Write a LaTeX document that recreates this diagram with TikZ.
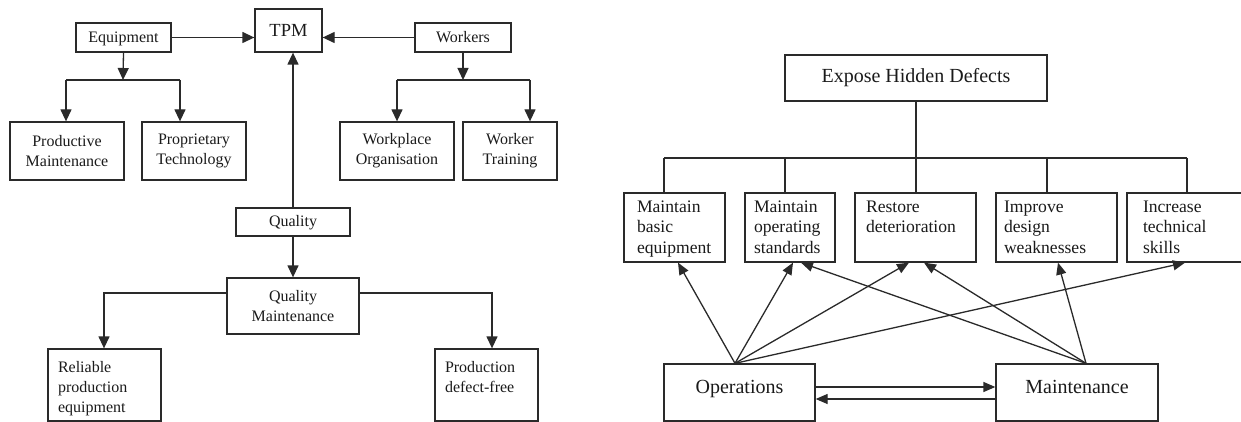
\documentclass[tikz,border=0pt]{standalone}
\usepackage{fontspec}
\setmainfont{Liberation Serif}
\usetikzlibrary{arrows.meta}
\definecolor{inkline}{HTML}{2A2A2A}
\definecolor{inktext}{HTML}{1A1A1A}
% text block set against the top-left corner of its frame:
% #1 width, #2 height, #3 left padding, #4 top gap, #5 lines
\newcommand\cornertext[5]{\parbox[c][#2][t]{#1}{\raggedright\leftskip=#3\relax
  \vspace*{#4}\rule{0pt}{12pt}#5}}
\begin{document}
\begin{tikzpicture}[x=1pt,y=-1pt,
  box/.style={draw=inkline, line width=1.3pt, rectangle, inner sep=0pt,
    text=inktext, align=center},
  smallfont/.style={font=\fontsize{16}{20}\selectfont},
  tpmfont/.style={font=\fontsize{18.5}{22}\selectfont},
  listfont/.style={font=\fontsize{17.6}{20.5}\selectfont},
  bigfont/.style={font=\fontsize{20}{24}\selectfont},
  oneline/.style={text height=#1, text depth=0pt},
  link/.style={draw=inkline, line width=1.3pt},
  arr/.style={link, -{Triangle[length=12pt,width=11pt]}},
  arrs/.style={link, -{Triangle[length=12pt,width=10pt]}}]
\useasboundingbox (0,0) rectangle (1241,422);
\clip (0,0) rectangle (1241,422);

% ---------------- TPM pillars ----------------
\node[box,tpmfont,oneline=13pt,minimum width=67pt,minimum height=43pt] (tpm) at (288.5,30.5) {TPM};
\node[box,smallfont,oneline=11pt,minimum width=95pt,minimum height=29pt] (equip) at (123.5,37.5) {Equipment};
\node[box,smallfont,oneline=11pt,minimum width=96pt,minimum height=29pt] (workers) at (463,37.5) {Workers};
\node[box,smallfont,minimum width=114pt,minimum height=58pt] (prodm) at (67,151) {Productive\\Maintenance};
\node[box,smallfont,minimum width=104pt,minimum height=58pt] (propt) at (194,151) {Proprietary\\Technology};
\node[box,smallfont,minimum width=114pt,minimum height=58pt] (workp) at (397,151) {Workplace\\Organisation};
\node[box,smallfont,minimum width=94pt,minimum height=58pt] (workt) at (510,151) {Worker\\Training};
\node[box,smallfont,oneline=9pt,minimum width=114pt,minimum height=28pt] (quality) at (293,222) {Quality};
\node[box,smallfont,minimum width=132pt,minimum height=56pt] (qm) at (293,306) {Quality\\Maintenance};
\node[box,smallfont] (reliable) at (104.5,385)
  {\cornertext{113pt}{72pt}{10pt}{11pt}{Reliable\\production\\equipment}};
\node[box,smallfont] (defect) at (486.5,385)
  {\cornertext{103pt}{72pt}{10pt}{11pt}{Production\\defect-free}};

\coordinate (eqsplit) at (123,80);
\coordinate (eqL) at (66,80);
\coordinate (eqR) at (180,80);
\coordinate (wksplit) at (463,80);
\coordinate (wkL) at (397,80);
\coordinate (wkR) at (530,80);
\coordinate (qL) at (104,293);
\coordinate (qR) at (492,293);

\draw[arr] (equip.east) -- (equip.east -| tpm.west);
\draw[arr] (workers.west) -- (workers.west -| tpm.east);
\draw[arr] (equip.south) -- (eqsplit);
\draw[link] (eqL) -- (eqR);
\draw[arr] (eqL) -- (eqL |- prodm.north);
\draw[arr] (eqR) -- (eqR |- propt.north);
\draw[arr] (workers.south) -- (wksplit);
\draw[link] (wkL) -- (wkR);
\draw[arr] (wkL) -- (wkL |- workp.north);
\draw[arr] (wkR) -- (wkR |- workt.north);
\draw[arr] (quality.north) -- (quality.north |- tpm.south);
\draw[arr] (quality.south) -- (qm.north);
\draw[arr] (qm.west |- qL) -- (qL) -- (qL |- reliable.north);
\draw[arr] (qm.east |- qR) -- (qR) -- (qR |- defect.north);

% ---------------- Hidden defects ----------------
\node[box,bigfont,minimum width=262pt,minimum height=46pt] (expose) at (916,78) {Expose Hidden Defects};
\node[box,listfont] (b1) at (674.5,227.5)
  {\cornertext{101pt}{69pt}{13pt}{7pt}{Maintain\\basic\\equipment}};
\node[box,listfont] (b2) at (790,227.5)
  {\cornertext{90pt}{69pt}{9pt}{7pt}{Maintain\\operating\\standards}};
\node[box,listfont] (b3) at (915.5,227.5)
  {\cornertext{121pt}{69pt}{11pt}{7pt}{Restore\\deterioration}};
\node[box,listfont] (b4) at (1056.5,227.5)
  {\cornertext{121pt}{69pt}{8pt}{7pt}{Improve\\design\\weaknesses}};
\node[box,listfont] (b5) at (1187.5,227.5)
  {\cornertext{121pt}{69pt}{16pt}{7pt}{Increase\\technical\\skills}};
\node[box,bigfont,text height=13pt,text depth=12pt,minimum width=151pt,minimum height=57pt] (ops) at (739.5,392.5) {Operations};
\node[box,bigfont,text height=13pt,text depth=12pt,minimum width=162pt,minimum height=57pt] (maint) at (1077,392.5) {Maintenance};

\coordinate (t1) at (664,158);
\coordinate (t2) at (785,158);
\coordinate (t3) at (916,158);
\coordinate (t4) at (1047,158);
\coordinate (t5) at (1187,158);

\draw[link] (expose.south) -- (t3);
\draw[link] (t1) -- (t5);
\draw[link] (t1) -- (t1 |- b1.north);
\draw[link] (t2) -- (t2 |- b2.north);
\draw[link] (t3) -- (t3 |- b3.north);
\draw[link] (t4) -- (t4 |- b4.north);
\draw[link] (t5) -- (t5 |- b5.north);

\draw[arrs] ([xshift=-4.5pt]ops.north) -- ([xshift=3.5pt]b1.south);
\draw[arrs] ([xshift=-4.5pt]ops.north) -- ([xshift=3pt]b2.south);
\draw[arrs] ([xshift=-4.5pt]ops.north) -- ([xshift=-6.5pt]b3.south);
\draw[arrs] ([xshift=-4.5pt]ops.north) -- ([xshift=-2.5pt]b5.south);
\draw[arrs] ([xshift=9pt]maint.north) -- ([xshift=11pt]b2.south);
\draw[arrs] ([xshift=9pt]maint.north) -- ([xshift=8.5pt]b3.south);
\draw[arrs] ([xshift=9pt]maint.north) -- ([xshift=1.5pt]b4.south);
\draw[arrs] ([yshift=5.5pt]ops.east) -- ([yshift=5.5pt]maint.west);
\draw[arrs] ([yshift=-6.5pt]maint.west) -- ([yshift=-6.5pt]ops.east);
\end{tikzpicture}
\end{document}
